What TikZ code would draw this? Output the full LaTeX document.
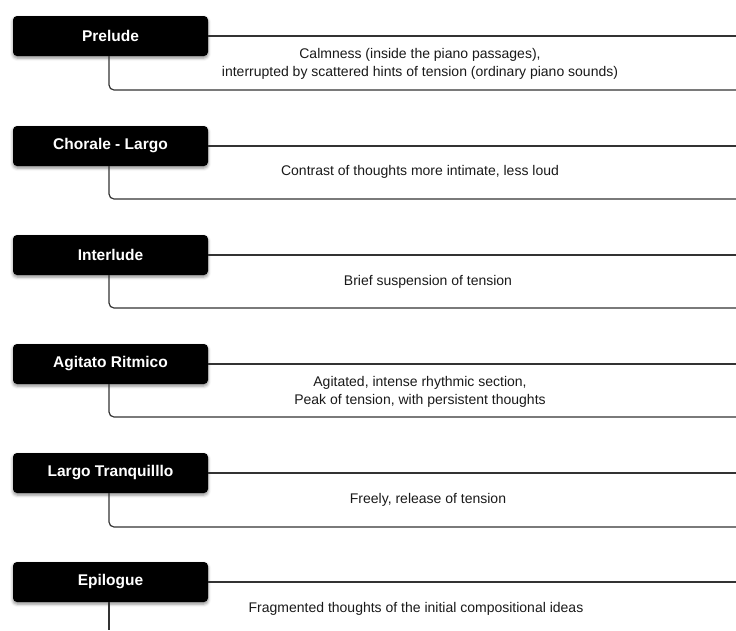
\documentclass[tikz,border=0pt]{standalone}
\usepackage{fontspec}
\setmainfont{Liberation Sans}
\usetikzlibrary{shadows.blur}
\begin{document}
\begin{tikzpicture}[x=1pt,y=-1pt,
 title/.style={fill=black, rounded corners=4pt, minimum width=195pt, minimum height=40pt, inner sep=0pt,
   text=white, font=\fontsize{15.5}{19}\selectfont\bfseries,
   blur shadow={shadow xshift=0pt, shadow yshift=-2pt, shadow blur radius=3pt, shadow opacity=45}},
 desc/.style={font=\fontsize{14}{18}\selectfont, align=center, text=black!90, inner sep=0pt},
 conn/.style={draw=black!80, line width=1.2pt, rounded corners=5pt}]
\useasboundingbox (0,0) rectangle (736,630);

% Prelude
\node[title] (p1) at (110.5,36) {Prelude};
\coordinate (p1r) at (736,36);
\coordinate (p1c) at (109,90);
\coordinate (p1e) at (736,90);
\draw[conn] (p1) -- (p1r);
\draw[conn] (p1.south -| p1c) |- (p1e);
\node[desc] (t1) at (420,64) {Calmness (inside the piano passages),\\interrupted by scattered hints of tension (ordinary piano sounds)};

% Chorale - Largo
\node[title] (p2) at (110.5,146) {Chorale - Largo};
\coordinate (p2r) at (736,146);
\coordinate (p2c) at (109,199);
\coordinate (p2e) at (736,199);
\draw[conn] (p2) -- (p2r);
\draw[conn] (p2.south -| p2c) |- (p2e);
\node[desc] (t2) at (420,172) {Contrast of thoughts more intimate, less loud};

% Interlude
\node[title] (p3) at (110.5,255) {Interlude};
\coordinate (p3r) at (736,255);
\coordinate (p3c) at (109,308);
\coordinate (p3e) at (736,308);
\draw[conn] (p3) -- (p3r);
\draw[conn] (p3.south -| p3c) |- (p3e);
\node[desc] (t3) at (428,282) {Brief suspension of tension};

% Agitato Ritmico
\node[title] (p4) at (110.5,364) {Agitato Ritmico};
\coordinate (p4r) at (736,364);
\coordinate (p4c) at (109,417);
\coordinate (p4e) at (736,417);
\draw[conn] (p4) -- (p4r);
\draw[conn] (p4.south -| p4c) |- (p4e);
\node[desc] (t4) at (420,392) {Agitated, intense rhythmic section,\\Peak of tension, with persistent thoughts};

% Largo Tranquilllo
\node[title] (p5) at (110.5,473) {Largo Tranquilllo};
\coordinate (p5r) at (736,473);
\coordinate (p5c) at (109,527);
\coordinate (p5e) at (736,527);
\draw[conn] (p5) -- (p5r);
\draw[conn] (p5.south -| p5c) |- (p5e);
\node[desc] (t5) at (428,500) {Freely, release of tension};

% Epilogue
\node[title] (p6) at (110.5,582) {Epilogue};
\coordinate (p6r) at (736,582);
\coordinate (p6e) at (109,630);
\draw[conn] (p6) -- (p6r);
\draw[conn] (p6.south -| p6e) -- (p6e);
\node[desc] (t6) at (416,609) {Fragmented thoughts of the initial compositional ideas};
\end{tikzpicture}
\end{document}
